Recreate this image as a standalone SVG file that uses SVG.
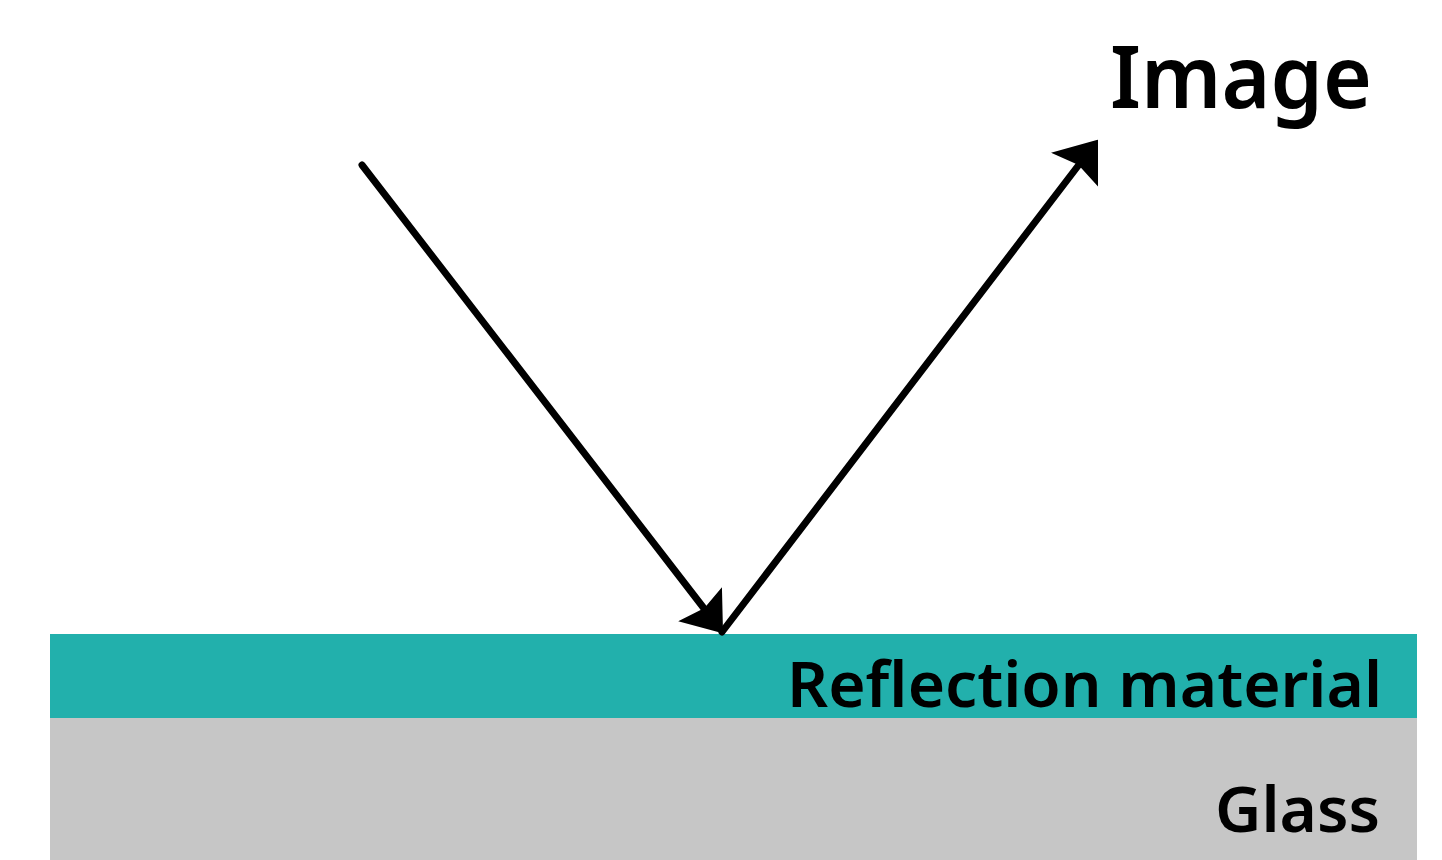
<svg xmlns="http://www.w3.org/2000/svg" width="1442" height="860" viewBox="0 0 1442 860">
<style>
.lbl{font-family:"Noto Sans","DejaVu Sans",sans-serif;font-weight:600;fill:#000}
.ray{stroke:#000;stroke-width:7;fill:none;stroke-linecap:round}
.head{fill:#000;stroke:#000;stroke-width:2;stroke-linejoin:miter}
</style>
<rect width="1442" height="860" fill="#fff"/>
<g id="reflection-layer">
<rect x="50" y="634" width="1367" height="84" fill="#22B0AC"/>
<text class="lbl" x="1382" y="707" font-size="64" text-anchor="end" textLength="595" lengthAdjust="spacingAndGlyphs">Reflection material</text>
</g>
<g id="glass-layer">
<rect x="50" y="718" width="1367" height="142" fill="#C6C6C6"/>
<text class="lbl" x="1380" y="832" font-size="64" text-anchor="end" textLength="165" lengthAdjust="spacingAndGlyphs">Glass</text>
</g>
<g id="image-label">
<text class="lbl" x="1110" y="108" font-size="87" textLength="262" lengthAdjust="spacingAndGlyphs">Image</text>
</g>
<g id="connectors">
<line class="ray" x1="362" y1="165" x2="706" y2="611"/>
<path class="head" d="M722,632 L681,621 L705,609 L721,590 Z"/>
<line class="ray" x1="722" y1="632" x2="1081" y2="162"/>
<path class="head" d="M1097,141 L1054,153 L1079,164 L1097,184 Z"/>
</g>
</svg>
